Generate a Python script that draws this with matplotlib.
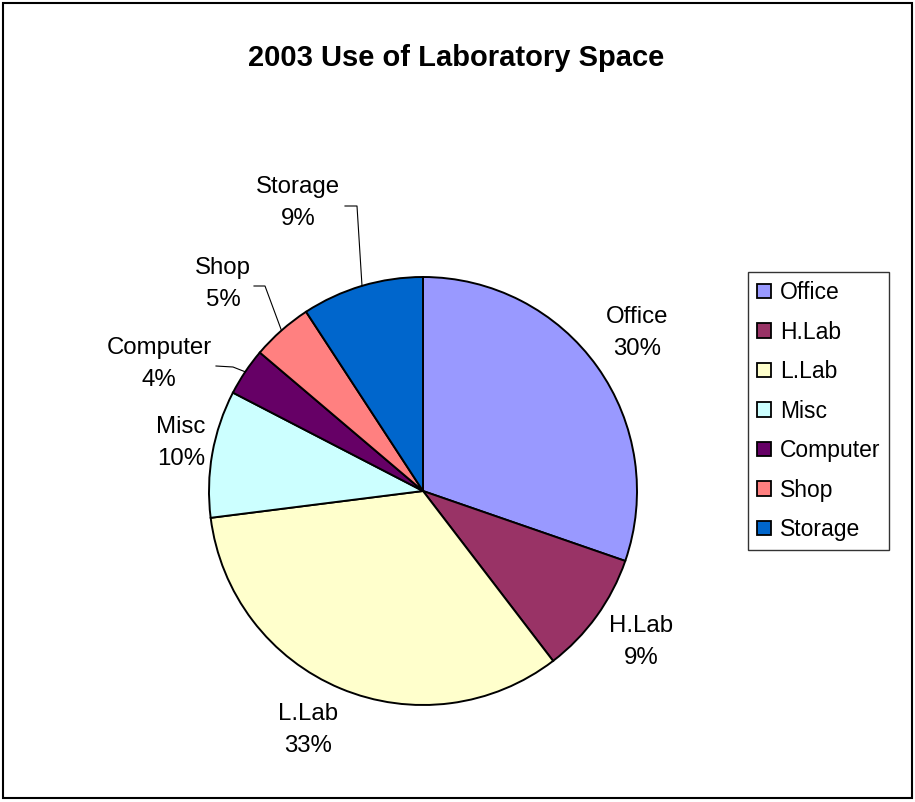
import matplotlib
matplotlib.use("Agg")
import matplotlib.pyplot as plt
from matplotlib.patches import Rectangle, Patch
import numpy as np

W, H = 915, 802

categories = ["Office", "H.Lab", "L.Lab", "Misc", "Computer", "Shop", "Storage"]
shares = [30.3, 9.3, 33.4, 9.6, 3.6, 4.6, 9.2]
colors = ["#9999FF", "#993366", "#FFFFCC", "#CCFFFF", "#660066", "#FF8080", "#0066CC"]

# label centres (pixels, top-left origin) and leader-line knees
label_pos = [(637, 333), (641, 642), (308, 730), (181, 443),
             (159, 364), (223, 284), (298, 203)]
knees = {6: [(345, 206), (357, 206)],
         5: [(254, 286), (265, 286)],
         4: [(216, 366), (233, 367)]}

cx, cy, r = 423, 491, 214


def py(y):
    return H - y


plt.rcParams['font.family'] = ['Liberation Sans', 'DejaVu Sans']
fig = plt.figure(figsize=(W / 100, H / 100), dpi=100)
ax = fig.add_axes([0, 0, 1, 1])

wedges, _ = ax.pie(shares, colors=colors, startangle=90, counterclock=False,
                   center=(cx, py(cy)), radius=r,
                   wedgeprops=dict(edgecolor="black", linewidth=1.4))
ax.set_xlim(0, W)
ax.set_ylim(0, H)
ax.set_aspect('equal')
ax.axis('off')

total = sum(shares)
for i, (name, v) in enumerate(zip(categories, shares)):
    x, y = label_pos[i]
    ax.text(x, py(y), f"{name}\n{round(v / total * 100):.0f}%", ha='center', va='center',
            fontsize=17.3, linespacing=1.55)
    if i in knees:
        w = wedges[i]
        mid = np.deg2rad((w.theta1 + w.theta2) / 2)
        ex, ey = cx + r * np.cos(mid), py(cy) + r * np.sin(mid)
        pts = knees[i]
        xs = [pts[0][0], pts[1][0], ex]
        ys = [py(pts[0][1]), py(pts[1][1]), ey]
        ax.plot(xs, ys, color='black', linewidth=0.8)

ax.text(456, py(58), "2003 Use of Laboratory Space", ha='center', va='center',
        fontsize=21, fontweight='bold')

handles = [Patch(facecolor=c, edgecolor='black', linewidth=1.3) for c in colors]
leg = ax.legend(handles, categories, loc='upper left',
                bbox_to_anchor=(748 / W, 1 - 272 / H), bbox_transform=fig.transFigure,
                fontsize=16.5, frameon=True, fancybox=False, borderpad=0.4,
                labelspacing=0.72, handlelength=0.6, handleheight=0.6,
                handletextpad=0.38, borderaxespad=0)
leg.get_frame().set_edgecolor('black')
leg.get_frame().set_linewidth(1.0)

ax.add_patch(Rectangle((3, 4), W - 6, H - 7, fill=False, edgecolor='black',
                       linewidth=1.5, transform=ax.transData))

fig.savefig("out.png", dpi=100)
